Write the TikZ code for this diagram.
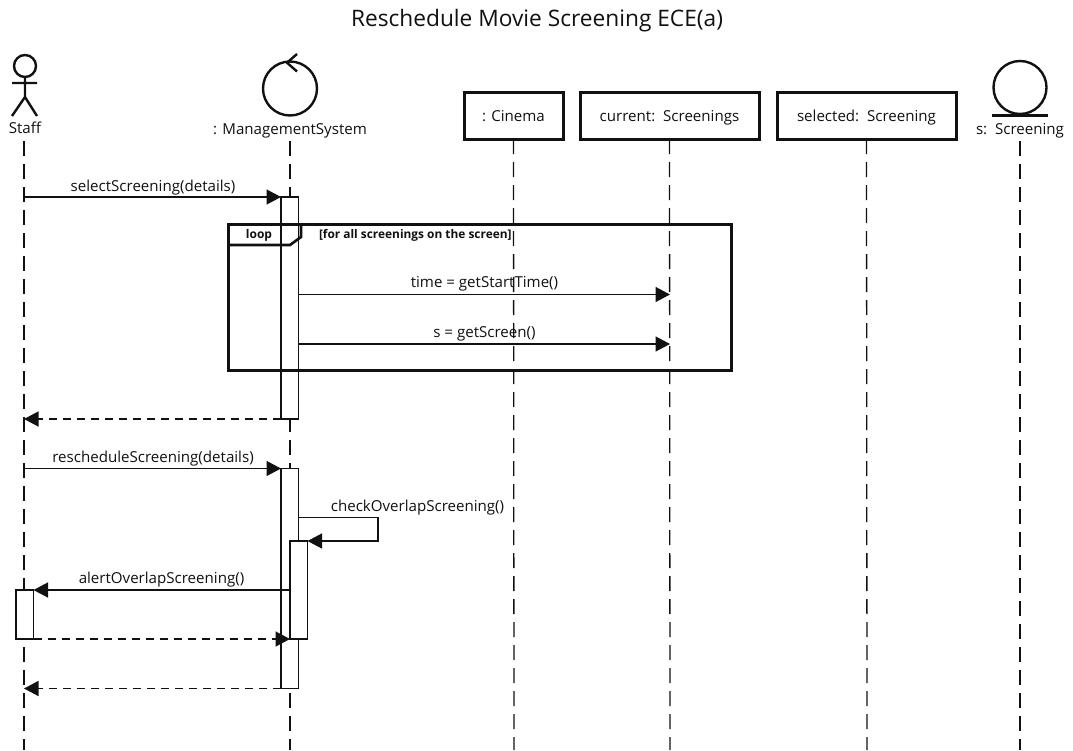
\documentclass[tikz,border=0pt]{standalone}
\usepackage{fontspec}
\setmainfont{Open Sans}
\usetikzlibrary{arrows.meta,positioning}
\definecolor{ink}{HTML}{111111}
\tikzset{
  x=1pt,y=-1pt,
  every node/.style={font=\fontsize{15.1}{17}\selectfont,text=ink,inner sep=0pt,outer sep=0pt},
  lifeline/.style={draw=ink,line width=1.3pt,dash pattern=on 15pt off 8pt},
  actor/.style={draw=ink,line width=2.4pt},
  objbox/.style={draw=ink,fill=white,line width=3pt,rectangle,anchor=north west,text height=14pt,text depth=2pt},
  actbox/.style={draw=ink,fill=white,line width=1.9pt,rectangle,anchor=north west},
  msg/.style={draw=ink,line width=1.4pt,-{Triangle[length=14.5pt,width=15pt]}},
  ret/.style={draw=ink,line width=1.4pt,dash pattern=on 8pt off 6pt,-{Triangle[length=14.5pt,width=15pt]}},
  lbl/.style={anchor=base},
  frame/.style={draw=ink,line width=2.6pt}
}
\begin{document}
\begin{tikzpicture}
\useasboundingbox (0,0) rectangle (1073,750);
\fill[white] (0,0) rectangle (1073,750);
\node[font=\fontsize{22.7}{26}\selectfont,anchor=base] (title) at (537,26) {Reschedule Movie Screening ECE(a)};

% participant heads
\node[lbl] (staff) at (25,133.5) {Staff};
\node[lbl] (ms) at (290,134) {: ManagementSystem};
\node[objbox,minimum width=99pt,minimum height=47pt] (cinema) at (464,92) {: Cinema};
\node[objbox,minimum width=179pt,minimum height=47pt] (current) at (580,92) {current:\ \ Screenings};
\node[objbox,minimum width=179pt,minimum height=47pt] (selected) at (777,92) {selected:\ \ Screening};
\node[lbl] (sscr) at (1020,134) {s:\ \ Screening};

% icons
\draw[actor] (25,66) circle (11);
\draw[actor] (25,77) -- (25,97) (12,83) -- (37,83) (12,116) -- (25,97) -- (37,116);
\draw[actor] (290,88.5) circle (27);
\draw[actor] (297,54) -- (287,62.7) -- (297,71.5);
\draw[actor] (1020,87.5) circle (26.5);
\draw[actor,line width=3pt] (992,115) -- (1048,115);

% lifeline ends
\coordinate (staffTop) at (24,141);
\coordinate (staffEnd) at (24,750);
\coordinate (msTop) at (290,141);
\coordinate (msEnd) at (290,750);
\coordinate (sEnd) at (1020,750);
\coordinate (sTop) at (1020,141);
\coordinate (cinemaEnd) at (514,750);
\coordinate (currentEnd) at (670,750);
\coordinate (selectedEnd) at (867,750);
\draw[lifeline] (staffTop) -- (staffEnd);
\draw[lifeline] (msTop) -- (msEnd);
\draw[lifeline] (cinema.south) -- (cinemaEnd);
\draw[lifeline] (current.south) -- (currentEnd);
\draw[lifeline] (selected.south) -- (selectedEnd);
\draw[lifeline] (sTop) -- (sEnd);

% activations
\node[actbox,minimum width=17.5pt,minimum height=222pt] (a1) at (281,197) {};
\node[actbox,minimum width=17.5pt,minimum height=220pt] (a2) at (281,468.5) {};
\node[actbox,minimum width=17.5pt,minimum height=98pt] (a3) at (290,541) {};
\node[actbox,minimum width=17.5pt,minimum height=49pt] (a4) at (16,590) {};

% loop frame
\node[draw=ink,line width=3pt,rectangle,anchor=north west,minimum width=503pt,minimum height=146pt] (loop) at (228,224) {};
\coordinate (tabA) at (301,224);
\coordinate (tabB) at (301,237);
\coordinate (tabC) at (290,245);
\coordinate (tabD) at (228,245);
\draw[frame] (tabA) -- (tabB) -- (tabC) -- (tabD);
\node[font=\fontsize{12}{13}\selectfont\bfseries,anchor=base] (looplbl) at (259,238) {loop};
\node[font=\fontsize{11.9}{13}\selectfont\bfseries,anchor=base west] (guard) at (319,238) {[for all screenings on the screen]};

% messages
\coordinate (m1s) at (24,197);
\coordinate (m1e) at (281,197);
\draw[msg] (m1s) -- (m1e);
\node[lbl] (l1) at (153,191) {selectScreening(details)};

\coordinate (m2s) at (299,294.5);
\coordinate (m2e) at (670,294.5);
\draw[msg] (m2s) -- (m2e);
\node[lbl] (l2) at (484.5,287) {time = getStartTime()};

\coordinate (m3s) at (299,344);
\coordinate (m3e) at (670,344);
\draw[msg] (m3s) -- (m3e);
\node[lbl] (l3) at (484.5,337) {s = getScreen()};

\coordinate (m4s) at (281,419);
\coordinate (m4e) at (24,419);
\draw[ret] (m4s) -- (m4e);

\coordinate (m5s) at (24,468.5);
\coordinate (m5e) at (281,468.5);
\draw[msg] (m5s) -- (m5e);
\node[lbl] (l5) at (153,462) {rescheduleScreening(details)};

\coordinate (m6s) at (299,517.5);
\coordinate (m6a) at (378,517.5);
\coordinate (m6b) at (378,541);
\coordinate (m6e) at (307.5,541);
\draw[msg] (m6s) -- (m6a) -- (m6b) -- (m6e);
\node[lbl] (l6) at (417.5,511) {checkOverlapScreening()};

\coordinate (m7s) at (290,590);
\coordinate (m7e) at (33.5,590);
\draw[msg] (m7s) -- (m7e);
\node[lbl] (l7) at (161.5,583) {alertOverlapScreening()};

\coordinate (m8s) at (33.5,639);
\coordinate (m8e) at (290,639);
\draw[ret] (m8s) -- (m8e);

\coordinate (m9s) at (281,688.5);
\coordinate (m9e) at (24,688.5);
\draw[ret] (m9s) -- (m9e);
\end{tikzpicture}
\end{document}
